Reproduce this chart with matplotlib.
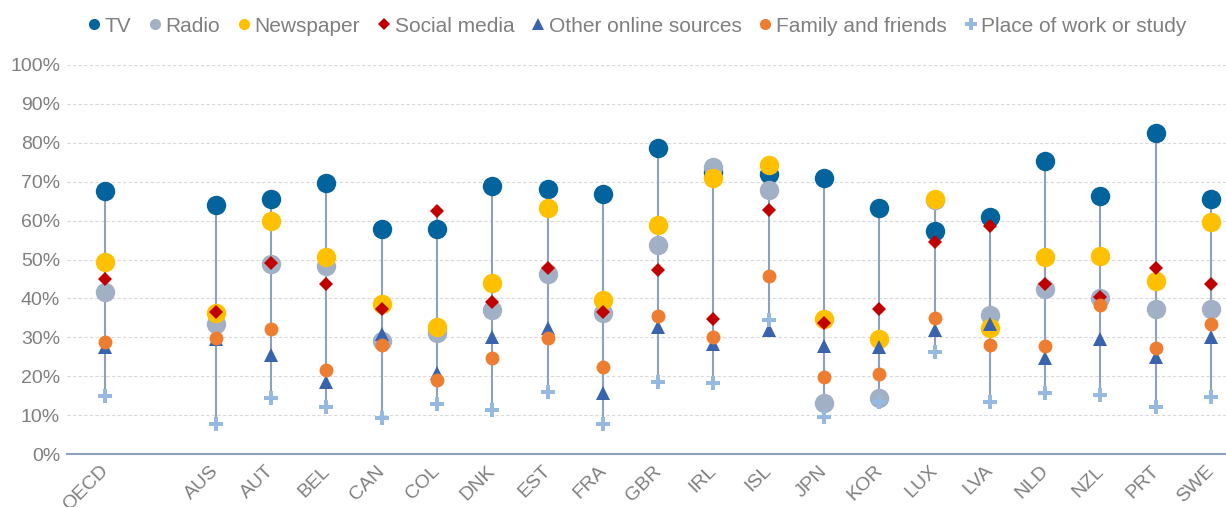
import numpy as np
import matplotlib.pyplot as plt
from matplotlib.lines import Line2D
from matplotlib.transforms import ScaledTranslation

plt.rcParams['font.family'] = ['Liberation Sans', 'DejaVu Sans']

countries = ["OECD", "", "AUS", "AUT", "BEL", "CAN", "COL", "DNK", "EST", "FRA", "GBR",
             "IRL", "ISL", "JPN", "KOR", "LUX", "LVA", "NLD", "NZL", "PRT", "SWE"]

nan = np.nan
tv = [67.5, nan, 64.0, 65.5, 69.7, 57.9, 57.9, 69.0, 68.1, 66.9, 78.6,
      72.5, 72.0, 70.9, 63.3, 57.4, 60.8, 75.2, 66.2, 82.4, 65.6]
radio = [41.6, nan, 33.5, 48.8, 48.4, 29.0, 31.0, 37.1, 46.4, 36.3, 53.8,
         73.9, 67.9, 13.0, 14.3, 65.3, 35.7, 42.3, 40.2, 37.3, 37.2]
newspaper = [49.3, nan, 36.3, 59.9, 50.6, 38.6, 32.7, 44.0, 63.2, 39.5, 58.9,
             71.0, 74.4, 34.7, 29.5, 65.6, 32.5, 50.7, 51.0, 44.5, 59.6]
social = [45.1, nan, 36.5, 49.0, 43.7, 37.3, 62.5, 39.1, 47.7, 36.6, 47.2,
          34.7, 62.7, 33.6, 37.2, 54.4, 58.6, 43.8, 40.4, 47.8, 43.8]
online = [27.5, nan, 29.5, 25.4, 18.4, 30.9, 20.7, 30.2, 32.3, 15.8, 32.6,
          28.3, 32.0, 27.8, 27.6, 31.9, 33.4, 24.6, 29.5, 25.0, 30.0]
family = [28.9, nan, 29.8, 32.2, 21.6, 27.9, 19.1, 24.6, 29.7, 22.4, 35.6,
          30.0, 45.8, 19.8, 20.6, 35.0, 28.0, 27.8, 38.3, 27.2, 33.5]
work = [14.8, nan, 7.7, 14.3, 12.0, 9.3, 12.8, 11.3, 16.0, 7.7, 18.6,
        18.3, 34.4, 9.6, 13.5, 26.3, 13.5, 15.8, 15.1, 12.0, 14.7]

# name, values, marker, colour, size on chart, size in legend
series = [
    ("TV", tv, "o", "#03639c", 14, 8),
    ("Radio", radio, "o", "#a2b0c5", 14, 8),
    ("Newspaper", newspaper, "o", "#ffc000", 14, 8),
    ("Social media", social, "D", "#c00000", 7.5, 6.5),
    ("Other online sources", online, "^", "#3a63ad", 10, 8),
    ("Family and friends", family, "o", "#ed7d31", 10, 8),
    ("Place of work or study", work, "P", "#95b9e1", 10, 8),
]

fig = plt.figure(figsize=(12.26, 5.07), dpi=100)
ax = fig.add_axes([0.0547, 0.1045, 0.9453, 0.7673])

x = np.arange(len(countries))
allv = np.array([s[1] for s in series], dtype=float)
lo = np.nanmin(allv, axis=0)
hi = np.nanmax(allv, axis=0)
ok = ~np.isnan(lo)
ax.vlines(x[ok], lo[ok], hi[ok], color="#8ea1bc", lw=1.5, zorder=1)

handles = []
for i, (name, vals, mk, col, ms, lms) in enumerate(series):
    ax.plot(x, vals, linestyle="none", marker=mk, color=col, markersize=ms,
            markeredgewidth=0, zorder=2 + i)
    handles.append(Line2D([], [], linestyle="none", marker=mk, color=col,
                          markersize=lms, markeredgewidth=0, label=name))

ax.set_xlim(-0.69, 20.27)
ax.set_ylim(0, 100)
ax.set_yticks(np.arange(0, 101, 10))
ax.set_yticklabels([f"{v}%" for v in range(0, 101, 10)])
ax.set_xticks(x)
ax.set_xticklabels(countries, rotation=45, ha="right", rotation_mode="anchor")
ax.tick_params(axis="both", length=0, colors="#7f7f7f", labelsize=14)
ax.tick_params(axis="x", pad=6)
ax.tick_params(axis="y", pad=5)
shift = ScaledTranslation(-4 / 72, 0, fig.dpi_scale_trans)
for lab in ax.get_xticklabels():
    lab.set_transform(lab.get_transform() + shift)

ax.grid(axis="y", color="#d9d9d9", linestyle=(0, (3, 2)), lw=0.8)
ax.set_axisbelow(True)
for s in ["top", "right", "left"]:
    ax.spines[s].set_visible(False)
ax.spines["bottom"].set_color("#8ea1bc")
ax.spines["bottom"].set_linewidth(1.5)

leg = fig.legend(handles=handles, loc="upper center", bbox_to_anchor=(0.518, 1.004),
                 ncol=7, frameon=False, fontsize=15, handletextpad=0.0,
                 columnspacing=0.65, handlelength=1.0)
for t in leg.get_texts():
    t.set_color("#7f7f7f")

fig.savefig("out.png", dpi=100)
